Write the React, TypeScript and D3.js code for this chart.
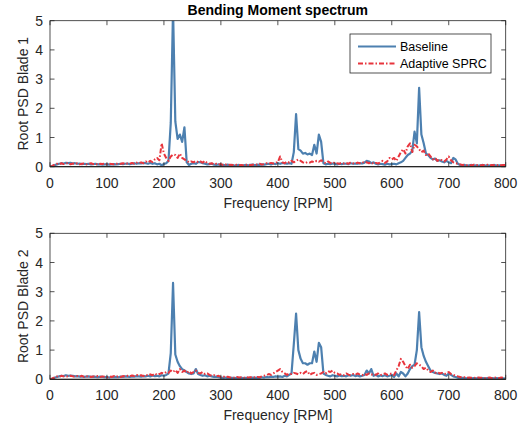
import React from "react";
import * as d3 from "d3";

const freqs: number[] = d3.range(0, 801, 4);

const xTicks = [0, 100, 200, 300, 400, 500, 600, 700, 800];
const yTicks = [0, 1, 2, 3, 4, 5];

const baseline1 = [
  0, 0.02, 0.05, 0.08, 0.1, 0.12, 0.11, 0.13, 0.12, 0.13,
  0.11, 0.12, 0.1, 0.11, 0.09, 0.1, 0.09, 0.1, 0.08, 0.09,
  0.1, 0.08, 0.09, 0.07, 0.08, 0.09, 0.07, 0.08, 0.09, 0.08,
  0.09, 0.1, 0.09, 0.1, 0.11, 0.09, 0.1, 0.12, 0.1, 0.12,
  0.11, 0.13, 0.12, 0.1, 0.13, 0.1, 0.12, 0.08, 0.1, 0.05,
  0.09, 0.12, 0.2, 1.5, 5.4, 1.55, 0.95, 1.1, 0.85, 1.35,
  0.15, 0.06, 0.1, 0.12, 0.1, 0.16, 0.15, 0.12, 0.1, 0.08,
  0.09, 0.1, 0.07, 0.06, 0.08, 0.05, 0.06, 0.05, 0.07, 0.05,
  0.06, 0.04, 0.05, 0.06, 0.04, 0.05, 0.06, 0.05, 0.06, 0.07,
  0.05, 0.07, 0.06, 0.08, 0.07, 0.09, 0.1, 0.08, 0.11, 0.09,
  0.12, 0.1, 0.13, 0.11, 0.1, 0.12, 0.1, 0.5, 1.8, 0.6,
  0.55, 0.45, 0.47, 0.42, 0.45, 0.4, 0.75, 0.45, 1.1, 0.85,
  0.12, 0.08, 0.1, 0.09, 0.11, 0.1, 0.08, 0.1, 0.09, 0.11,
  0.1, 0.09, 0.12, 0.1, 0.11, 0.1, 0.12, 0.11, 0.14, 0.2,
  0.18, 0.12, 0.15, 0.1, 0.08, 0.1, 0.09, 0.07, 0.1, 0.08,
  0.09, 0.1, 0.08, 0.12, 0.15, 0.2, 0.3, 0.4, 0.45, 0.55,
  1.2, 0.8, 2.7, 1.1, 0.8, 0.45, 0.4, 0.3, 0.25, 0.28,
  0.2, 0.22, 0.18, 0.15, 0.2, 0.15, 0.12, 0.3, 0.25, 0.1,
  0.06, 0.05, 0.06, 0.04, 0.05, 0.06, 0.04, 0.05, 0.04, 0.05,
  0.06, 0.04, 0.05, 0.04, 0.05, 0.06, 0.04, 0.05, 0.04, 0.05,
  0.03,
];

const adaptive1 = [
  0, 0.03, 0.07, 0.1, 0.08, 0.12, 0.09, 0.11, 0.13, 0.08,
  0.11, 0.09, 0.12, 0.08, 0.1, 0.11, 0.08, 0.1, 0.12, 0.09,
  0.1, 0.07, 0.1, 0.09, 0.11, 0.08, 0.1, 0.09, 0.08, 0.11,
  0.09, 0.1, 0.12, 0.09, 0.11, 0.1, 0.13, 0.1, 0.14, 0.12,
  0.15, 0.12, 0.18, 0.14, 0.2, 0.16, 0.25, 0.3, 0.22, 0.8,
  0.45, 0.3, 0.2, 0.35, 0.42, 0.4, 0.3, 0.45, 0.3, 0.25,
  0.2, 0.15, 0.18, 0.15, 0.2, 0.16, 0.18, 0.14, 0.2, 0.12,
  0.1, 0.12, 0.08, 0.1, 0.07, 0.09, 0.06, 0.08, 0.05, 0.07,
  0.06, 0.05, 0.07, 0.05, 0.06, 0.04, 0.06, 0.08, 0.05, 0.07,
  0.06, 0.08, 0.1, 0.07, 0.09, 0.12, 0.1, 0.13, 0.11, 0.14,
  0.15, 0.35, 0.15, 0.12, 0.18, 0.14, 0.2, 0.15, 0.2, 0.25,
  0.2, 0.15, 0.12, 0.16, 0.14, 0.18, 0.15, 0.2, 0.17, 0.22,
  0.15, 0.12, 0.18, 0.13, 0.1, 0.15, 0.12, 0.1, 0.14, 0.11,
  0.13, 0.1, 0.15, 0.12, 0.1, 0.14, 0.12, 0.16, 0.13, 0.15,
  0.12, 0.15, 0.1, 0.13, 0.11, 0.15, 0.2, 0.13, 0.18, 0.3,
  0.25, 0.3, 0.2, 0.35, 0.5, 0.6, 0.45, 0.7, 0.8, 0.5,
  0.75, 0.7, 0.6, 0.5, 0.55, 0.4, 0.45, 0.35, 0.25, 0.3,
  0.2, 0.25, 0.22, 0.18, 0.25, 0.35, 0.22, 0.15, 0.12, 0.1,
  0.08, 0.06, 0.07, 0.05, 0.06, 0.04, 0.07, 0.05, 0.06, 0.04,
  0.06, 0.05, 0.07, 0.04, 0.06, 0.05, 0.04, 0.07, 0.05, 0.06,
  0.06,
];

const baseline2 = [
  0, 0.02, 0.05, 0.08, 0.1, 0.12, 0.11, 0.14, 0.12, 0.13,
  0.12, 0.1, 0.11, 0.09, 0.1, 0.08, 0.09, 0.1, 0.08, 0.09,
  0.08, 0.07, 0.09, 0.08, 0.07, 0.08, 0.06, 0.08, 0.07, 0.08,
  0.07, 0.09, 0.08, 0.1, 0.09, 0.08, 0.1, 0.09, 0.11, 0.1,
  0.09, 0.11, 0.1, 0.12, 0.1, 0.13, 0.11, 0.12, 0.1, 0.14,
  0.12, 0.15, 0.2, 0.9, 3.3, 0.85, 0.6, 0.45, 0.35, 0.3,
  0.25, 0.2, 0.18, 0.2, 0.35, 0.18, 0.15, 0.12, 0.14, 0.1,
  0.12, 0.1, 0.08, 0.09, 0.07, 0.06, 0.05, 0.06, 0.04, 0.05,
  0.05, 0.04, 0.05, 0.04, 0.05, 0.04, 0.05, 0.04, 0.05, 0.06,
  0.05, 0.06, 0.05, 0.07, 0.06, 0.08, 0.07, 0.09, 0.08, 0.1,
  0.09, 0.1, 0.08, 0.12, 0.1, 0.15, 0.2, 1.2, 2.25, 1.0,
  0.7, 0.55, 0.55, 0.5, 0.55, 0.55, 0.95, 0.6, 1.25, 1.1,
  0.2, 0.15, 0.12, 0.1, 0.14, 0.12, 0.1, 0.13, 0.11, 0.12,
  0.1, 0.14, 0.12, 0.15, 0.11, 0.13, 0.1, 0.12, 0.15, 0.3,
  0.2, 0.35, 0.12, 0.15, 0.1, 0.13, 0.11, 0.14, 0.1, 0.12,
  0.15, 0.08, 0.2, 0.1, 0.25, 0.2, 0.1, 0.2, 0.35, 0.45,
  0.5, 1.0, 2.3, 1.1, 0.8, 0.6, 0.45, 0.3, 0.25, 0.22,
  0.2, 0.18, 0.2, 0.15, 0.12, 0.2, 0.15, 0.1, 0.08, 0.05,
  0.04, 0.05, 0.04, 0.03, 0.04, 0.03, 0.04, 0.03, 0.04, 0.03,
  0.04, 0.03, 0.04, 0.03, 0.04, 0.03, 0.04, 0.03, 0.02, 0.03,
  0.02,
];

const adaptive2 = [
  0, 0.03, 0.06, 0.1, 0.08, 0.12, 0.1, 0.11, 0.09, 0.12,
  0.1, 0.08, 0.11, 0.09, 0.12, 0.08, 0.1, 0.11, 0.08, 0.1,
  0.09, 0.11, 0.08, 0.1, 0.09, 0.07, 0.1, 0.08, 0.11, 0.09,
  0.1, 0.08, 0.11, 0.09, 0.12, 0.1, 0.13, 0.11, 0.15, 0.12,
  0.14, 0.11, 0.16, 0.13, 0.17, 0.14, 0.2, 0.15, 0.18, 0.22,
  0.2, 0.25, 0.22, 0.3, 0.25, 0.32, 0.22, 0.35, 0.25, 0.3,
  0.22, 0.28, 0.2, 0.25, 0.3, 0.22, 0.2, 0.25, 0.18, 0.2,
  0.15, 0.12, 0.14, 0.1, 0.12, 0.08, 0.1, 0.07, 0.09, 0.06,
  0.07, 0.05, 0.08, 0.06, 0.07, 0.05, 0.08, 0.06, 0.07, 0.08,
  0.06, 0.08, 0.07, 0.1, 0.12, 0.14, 0.18, 0.15, 0.2, 0.25,
  0.3, 0.35, 0.25, 0.2, 0.15, 0.2, 0.18, 0.22, 0.2, 0.17,
  0.22, 0.18, 0.25, 0.28, 0.15, 0.2, 0.22, 0.15, 0.18, 0.2,
  0.25, 0.2, 0.28, 0.25, 0.3, 0.22, 0.2, 0.15, 0.18, 0.14,
  0.2, 0.16, 0.14, 0.18, 0.15, 0.2, 0.16, 0.14, 0.18, 0.15,
  0.2, 0.16, 0.18, 0.15, 0.2, 0.14, 0.17, 0.2, 0.15, 0.18,
  0.2, 0.15, 0.3, 0.45, 0.7, 0.6, 0.45, 0.35, 0.5, 0.4,
  0.45, 0.55, 0.5, 0.45, 0.35, 0.4, 0.3, 0.25, 0.3, 0.22,
  0.25, 0.2, 0.22, 0.18, 0.2, 0.25, 0.18, 0.15, 0.12, 0.1,
  0.08, 0.06, 0.07, 0.05, 0.06, 0.05, 0.06, 0.04, 0.06, 0.05,
  0.06, 0.04, 0.05, 0.06, 0.04, 0.06, 0.05, 0.04, 0.06, 0.05,
  0.05,
];

const BLUE = "#4d80b0";
const RED = "#e8353d";
const AXIS = "#262626";
const FONT = "'Liberation Sans', Arial, Helvetica, sans-serif";

const X0 = 50;
const X1 = 505.7;
const H = 146;

type PanelProps = {
  top: number;
  ylabel: string;
  base: number[];
  adapt: number[];
  legend: boolean;
  id: string;
};

function Panel({ top, ylabel, base, adapt, legend, id }: PanelProps) {
  const x = d3.scaleLinear().domain([0, 800]).range([X0, X1]);
  const y = d3.scaleLinear().domain([0, 5]).range([top + H, top]);
  const line = d3
    .line<number>()
    .x((_, i) => x(freqs[i]))
    .y((d) => y(d));
  const tick = 4.5;
  return (
    <g>
      <defs>
        <clipPath id={id}>
          <rect x={X0} y={top} width={X1 - X0} height={H} />
        </clipPath>
      </defs>
      <rect x={X0} y={top} width={X1 - X0} height={H} fill="#fff" />
      <g clipPath={`url(#${id})`}>
        <path d={line(base) || ""} fill="none" stroke={BLUE} strokeWidth={2.2} strokeLinejoin="round" />
        <path
          d={line(adapt) || ""}
          fill="none"
          stroke={RED}
          strokeWidth={2}
          strokeDasharray="5 2 1.5 2"
          strokeLinejoin="round"
        />
      </g>
      <rect x={X0} y={top} width={X1 - X0} height={H} fill="none" stroke={AXIS} strokeWidth={0.8} />
      <line x1={X0} x2={X1} y1={top + H} y2={top + H} stroke={AXIS} strokeWidth={1.2} />
      {xTicks.map((t) => (
        <g key={"x" + t}>
          <line x1={x(t)} x2={x(t)} y1={top + H} y2={top + H - tick} stroke={AXIS} strokeWidth={0.8} />
          <line x1={x(t)} x2={x(t)} y1={top} y2={top + tick} stroke={AXIS} strokeWidth={0.8} />
          <text x={x(t)} y={top + H + 21} textAnchor="middle" fontSize={14} fill={AXIS} fontFamily={FONT}>
            {t}
          </text>
        </g>
      ))}
      {yTicks.map((t) => (
        <g key={"y" + t}>
          <line x1={X0} x2={X0 + tick} y1={y(t)} y2={y(t)} stroke={AXIS} strokeWidth={0.8} />
          <line x1={X1} x2={X1 - tick} y1={y(t)} y2={y(t)} stroke={AXIS} strokeWidth={0.8} />
          <text x={43} y={y(t) + 5} textAnchor="end" fontSize={14} fill={AXIS} fontFamily={FONT}>
            {t}
          </text>
        </g>
      ))}
      <text
        x={(X0 + X1) / 2}
        y={top + H + 41}
        textAnchor="middle"
        fontSize={14}
        fill={AXIS}
        fontFamily={FONT}
      >
        Frequency [RPM]
      </text>
      <text
        transform={`translate(28, ${top + H / 2}) rotate(-90)`}
        textAnchor="middle"
        fontSize={14}
        fill={AXIS}
        fontFamily={FONT}
      >
        {ylabel}
      </text>
      {legend && (
        <g>
          <rect x={350} y={34} width={141} height={39} fill="#fff" stroke={AXIS} strokeWidth={0.8} />
          <line x1={358} x2={396} y1={46.5} y2={46.5} stroke={BLUE} strokeWidth={2.2} />
          <line
            x1={358}
            x2={396}
            y1={63.5}
            y2={63.5}
            stroke={RED}
            strokeWidth={2}
            strokeDasharray="5 2 1.5 2"
          />
          <text x={400} y={51} fontSize={12.5} fill="#000" fontFamily={FONT}>
            Baseline
          </text>
          <text x={400} y={68} fontSize={12.5} fill="#000" fontFamily={FONT}>
            Adaptive SPRC
          </text>
        </g>
      )}
    </g>
  );
}

export default function App() {
  return (
    <div style={{ position: "absolute", left: 0, top: 0 }}>
      <svg width={531} height={429} style={{ display: "block", background: "#fff" }}>
        <rect width={531} height={429} fill="#fff" />
        <text
          x={(X0 + X1) / 2}
          y={15}
          textAnchor="middle"
          fontSize={14}
          fontWeight="bold"
          fill="#000"
          fontFamily={FONT}
        >
          Bending Moment spectrum
        </text>
        <Panel top={20.7} ylabel="Root PSD Blade 1" base={baseline1} adapt={adaptive1} legend={true} id="clip1" />
        <Panel top={233.3} ylabel="Root PSD Blade 2" base={baseline2} adapt={adaptive2} legend={false} id="clip2" />
      </svg>
    </div>
  );
}
